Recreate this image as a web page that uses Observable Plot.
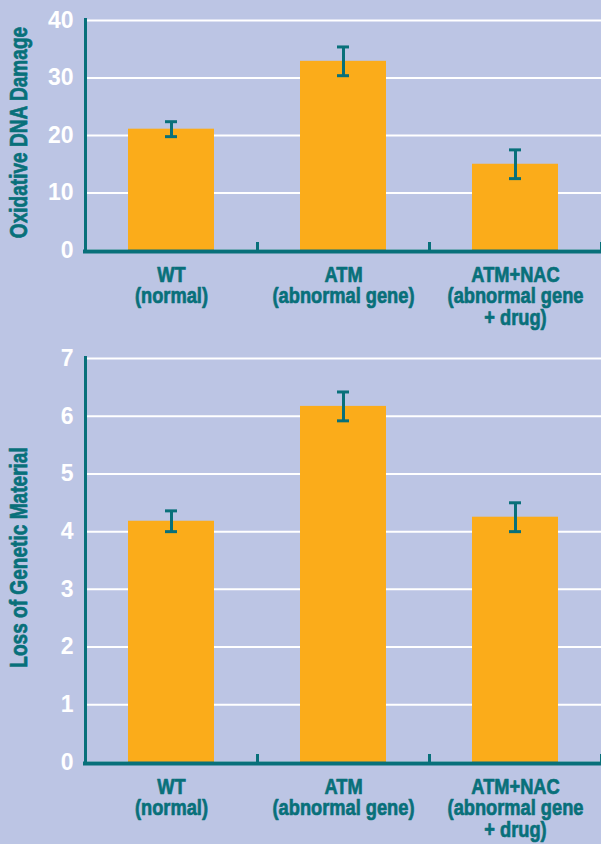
<!DOCTYPE html>
<html>
<head>
<meta charset="utf-8">
<script src="https://cdn.jsdelivr.net/npm/d3@7"></script>
<script src="https://cdn.jsdelivr.net/npm/@observablehq/plot@0.6"></script>
<style>
  html, body { margin: 0; padding: 0; background: #bcc5e4; }
  #chart { width: 601px; }
  #chart svg { display: block; }
</style>
</head>
<body>
<div id="chart"></div>
<script>
// ---- data ----
const categories = ["WT", "ATM", "ATM+NAC"];
const categoryLabels = ["WT\n(normal)", "ATM\n(abnormal gene)", "ATM+NAC\n(abnormal gene\n+ drug)"];

const damageValues = [21.1, 32.9, 15.0];
const damageErrors = [1.3, 2.5, 2.5];
const damageTicks = [0, 10, 20, 30, 40];
const damageTitle = "Oxidative DNA Damage";

const lossValues = [4.18, 6.17, 4.25];
const lossErrors = [0.18, 0.25, 0.25];
const lossTicks = [0, 1, 2, 3, 4, 5, 6, 7];
const lossTitle = "Loss of Genetic Material";

// ---- style ----
const ORANGE = "#fbac1a";
const TEAL = "#08707a";
const NARROW = "'Condensed Label', 'Liberation Sans', Arial, sans-serif"; // first name is a marker for horizontal condensing
const SANS = "'Liberation Sans', Arial, sans-serif";
const CONDENSE = 0.83;

function makeChart({values, errors, ticks, title, height, marginTop, marginBottom}) {
  const rows = categories.map((c, i) => ({cat: c, label: categoryLabels[i], value: values[i], err: errors[i]}));
  const width = 601, marginLeft = 85, marginRight = 0;
  const step = (width - marginLeft - marginRight) / categories.length;
  const svg = Plot.plot({
    width, height, marginTop, marginBottom, marginLeft, marginRight,
    style: {background: "transparent", overflow: "visible"},
    x: {domain: categories, paddingInner: 0.5, paddingOuter: 0.25, axis: null},
    y: {domain: [0, d3.max(ticks)], axis: null},
    marks: [
      Plot.ruleY(ticks, {stroke: "white", strokeWidth: 2}),
      Plot.barY(rows, {x: "cat", y: "value", fill: ORANGE}),
      Plot.ruleX(rows, {x: "cat", y1: d => d.value - d.err, y2: d => d.value + d.err, stroke: TEAL, strokeWidth: 3}),
      Plot.tickY(rows, {x: "cat", y: d => d.value + d.err, stroke: TEAL, strokeWidth: 3, inset: 37}),
      Plot.tickY(rows, {x: "cat", y: d => d.value - d.err, stroke: TEAL, strokeWidth: 3, inset: 37}),
      // band-boundary ticks on x axis
      Plot.ruleX(categories, {x: d => d, dx: step / 2, y1: 0, y2: 0, insetTop: -8, stroke: TEAL, strokeWidth: 3}),
      // left axis line
      Plot.ruleX([categories[0]], {x: d => d, dx: -step / 2, stroke: TEAL, strokeWidth: 3, insetTop: -2}),
      // bottom axis line
      Plot.ruleY([0], {stroke: TEAL, strokeWidth: 4, insetLeft: -2, dy: 1}),
      // y tick labels
      Plot.text(ticks, {y: d => d, text: d => String(d), frameAnchor: "left", textAnchor: "end", dx: -12,
        fill: "white", fontSize: 23, fontWeight: "bold", fontFamily: SANS}),
      // category labels
      Plot.text(rows, {x: "cat", text: "label", frameAnchor: "bottom", lineAnchor: "top", dy: 16, lineHeight: 0.98,
        fill: TEAL, stroke: TEAL, strokeWidth: 0.7, fontSize: 22, fontWeight: "bold", fontFamily: NARROW}),
      // y title
      Plot.text([title], {text: d => d, frameAnchor: "left", rotate: -90, textAnchor: "middle", lineAnchor: "middle",
        dx: -66, dy: -3, fill: TEAL, stroke: TEAL, strokeWidth: 0.7, fontSize: 23, fontWeight: "bold", fontFamily: NARROW})
    ]
  });
  // condense the narrow-labelled texts horizontally (about their own anchor)
  d3.select(svg).selectAll("g[font-family]")
    .filter(function () { return this.getAttribute("font-family") === NARROW; })
    .selectAll("text")
    .attr("transform", function () { return (this.getAttribute("transform") || "") + ` scale(${CONDENSE},1)`; });
  return svg;
}

const chart = document.getElementById("chart");
chart.append(makeChart({values: damageValues, errors: damageErrors, ticks: damageTicks, title: damageTitle,
  height: 340, marginTop: 20, marginBottom: 90}));
chart.append(makeChart({values: lossValues, errors: lossErrors, ticks: lossTicks, title: lossTitle,
  height: 504, marginTop: 18, marginBottom: 82}));
</script>
</body>
</html>
